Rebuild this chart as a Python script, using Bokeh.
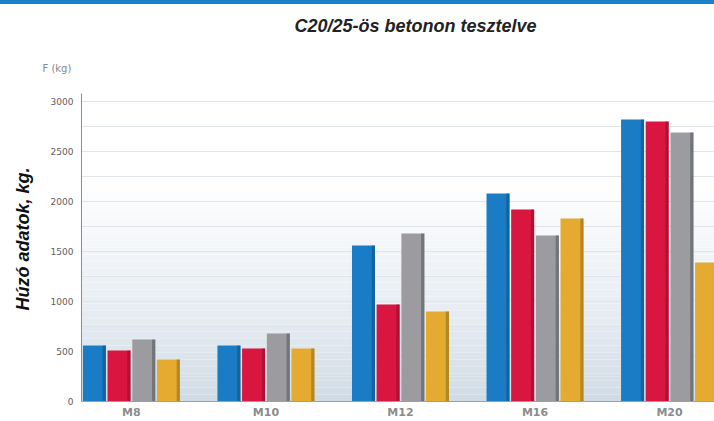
import math
from bokeh.plotting import figure
from bokeh.models import Range1d, FixedTicker, SingleIntervalTicker, BoxAnnotation, ColumnDataSource, Title
from bokeh.embed import file_html
from bokeh.resources import INLINE

categories = ["M8", "M10", "M12", "M16", "M20"]
s_blue = [560, 560, 1560, 2080, 2820]
s_red = [510, 530, 970, 1920, 2800]
s_gray = [620, 680, 1680, 1660, 2690]
s_yellow = [420, 530, 900, 1830, 1390]
y_ticks = [0, 500, 1000, 1500, 2000, 2500, 3000]

series = [s_blue, s_red, s_gray, s_yellow]
colors = ["#1a7cc4", "#d8163f", "#9c9ca0", "#e5ab30"]
edges = ["#0f4f80", "#8c0e2a", "#4e5358", "#8a6a1c"]
offsets = [-0.275, -0.092, 0.092, 0.275]
bar_w = 0.171

W, H = 714, 421
p = figure(width=W, height=H, output_backend="svg", toolbar_location=None,
           x_range=Range1d(-0.371, 4.334), y_range=Range1d(0, 3080),
           min_border_left=80, min_border_right=0, min_border_top=93, min_border_bottom=20)
p.outline_line_color = None
p.background_fill_color = "white"
p.border_fill_alpha = 0
p.styles = {"background": "linear-gradient(to bottom, #1a80c8 0px, #1a80c8 4px, #ffffff 4px, #ffffff 100%)"}

# gradient background
n = 44
top_c = (255, 255, 255)
bot_c = (206, 218, 229)
for i in range(n):
    b = 3080 * i / n
    t = 3080 * (i + 1) / n
    m = (b + t) / 2
    f = min(1.0, m / 2200) ** 0.8
    c = tuple(int(round(bot_c[k] + (top_c[k] - bot_c[k]) * f)) for k in range(3))
    p.add_layout(BoxAnnotation(bottom=b, top=t, fill_color="#%02x%02x%02x" % c, fill_alpha=1,
                               line_color=None, level="image"))

for s, c, e, o in zip(series, colors, edges, offsets):
    xs = [k + o for k in range(len(categories))]
    src = ColumnDataSource(dict(x=xs, top=s))
    p.vbar(x="x", top="top", width=bar_w, source=src, fill_color=c, line_color=None)
    xe = [k + o + bar_w / 2 - 0.012 for k in range(len(categories))]
    p.vbar(x=xe, top=s, width=0.024, fill_color=e, fill_alpha=0.55, line_color=None)

p.xgrid.grid_line_color = None
p.ygrid.ticker = SingleIntervalTicker(interval=250)
p.ygrid.grid_line_color = "#e0e5e9"

p.xaxis.ticker = FixedTicker(ticks=list(range(len(categories))))
p.xaxis.major_label_overrides = {i: c for i, c in enumerate(categories)}
p.xaxis.major_label_text_font = "DejaVu Sans"
p.xaxis.major_label_text_font_size = "11px"
p.xaxis.major_label_text_font_style = "bold"
p.xaxis.major_label_text_color = "#8c8c8c"
p.xaxis.major_tick_line_color = None
p.xaxis.minor_tick_line_color = None
p.xaxis.major_tick_out = 0
p.xaxis.minor_tick_out = 0
p.xaxis.major_label_standoff = 4
p.xaxis.axis_line_color = "#9aa0a5"

p.yaxis.ticker = FixedTicker(ticks=y_ticks)
p.yaxis.major_label_text_font = "DejaVu Sans"
p.yaxis.major_label_text_font_size = "9px"
p.yaxis.major_label_text_color = "#5e5e5e"
p.yaxis.major_tick_line_color = None
p.yaxis.minor_tick_line_color = None
p.yaxis.major_tick_out = 0
p.yaxis.minor_tick_out = 0
p.yaxis.major_label_standoff = 8
p.yaxis.axis_line_color = "#8c8c8c"

p.title.text = "C20/25-ös betonon tesztelve"
p.title.align = "left"
p.title.offset = 213
p.title.standoff = 14
p.title.vertical_align = "top"
p.title.text_font = "Liberation Sans"
p.title.text_font_style = "bold italic"
p.title.text_font_size = "18px"
p.title.text_color = "#222222"

fkg = Title(text="F (kg)", align="left", offset=-39, standoff=36, vertical_align="top",
            text_font="DejaVu Sans", text_font_style="normal",
            text_font_size="10px", text_color="#888888")
p.above.insert(0, fkg)

p.add_layout(Title(text="Húzó adatok, kg.", align="left", offset=91, standoff=25,
                   vertical_align="top",
                   text_font="Liberation Sans", text_font_style="bold italic",
                   text_font_size="18px", text_color="#111111"), "left")

open("out.html", "w").write(file_html(p, INLINE))
